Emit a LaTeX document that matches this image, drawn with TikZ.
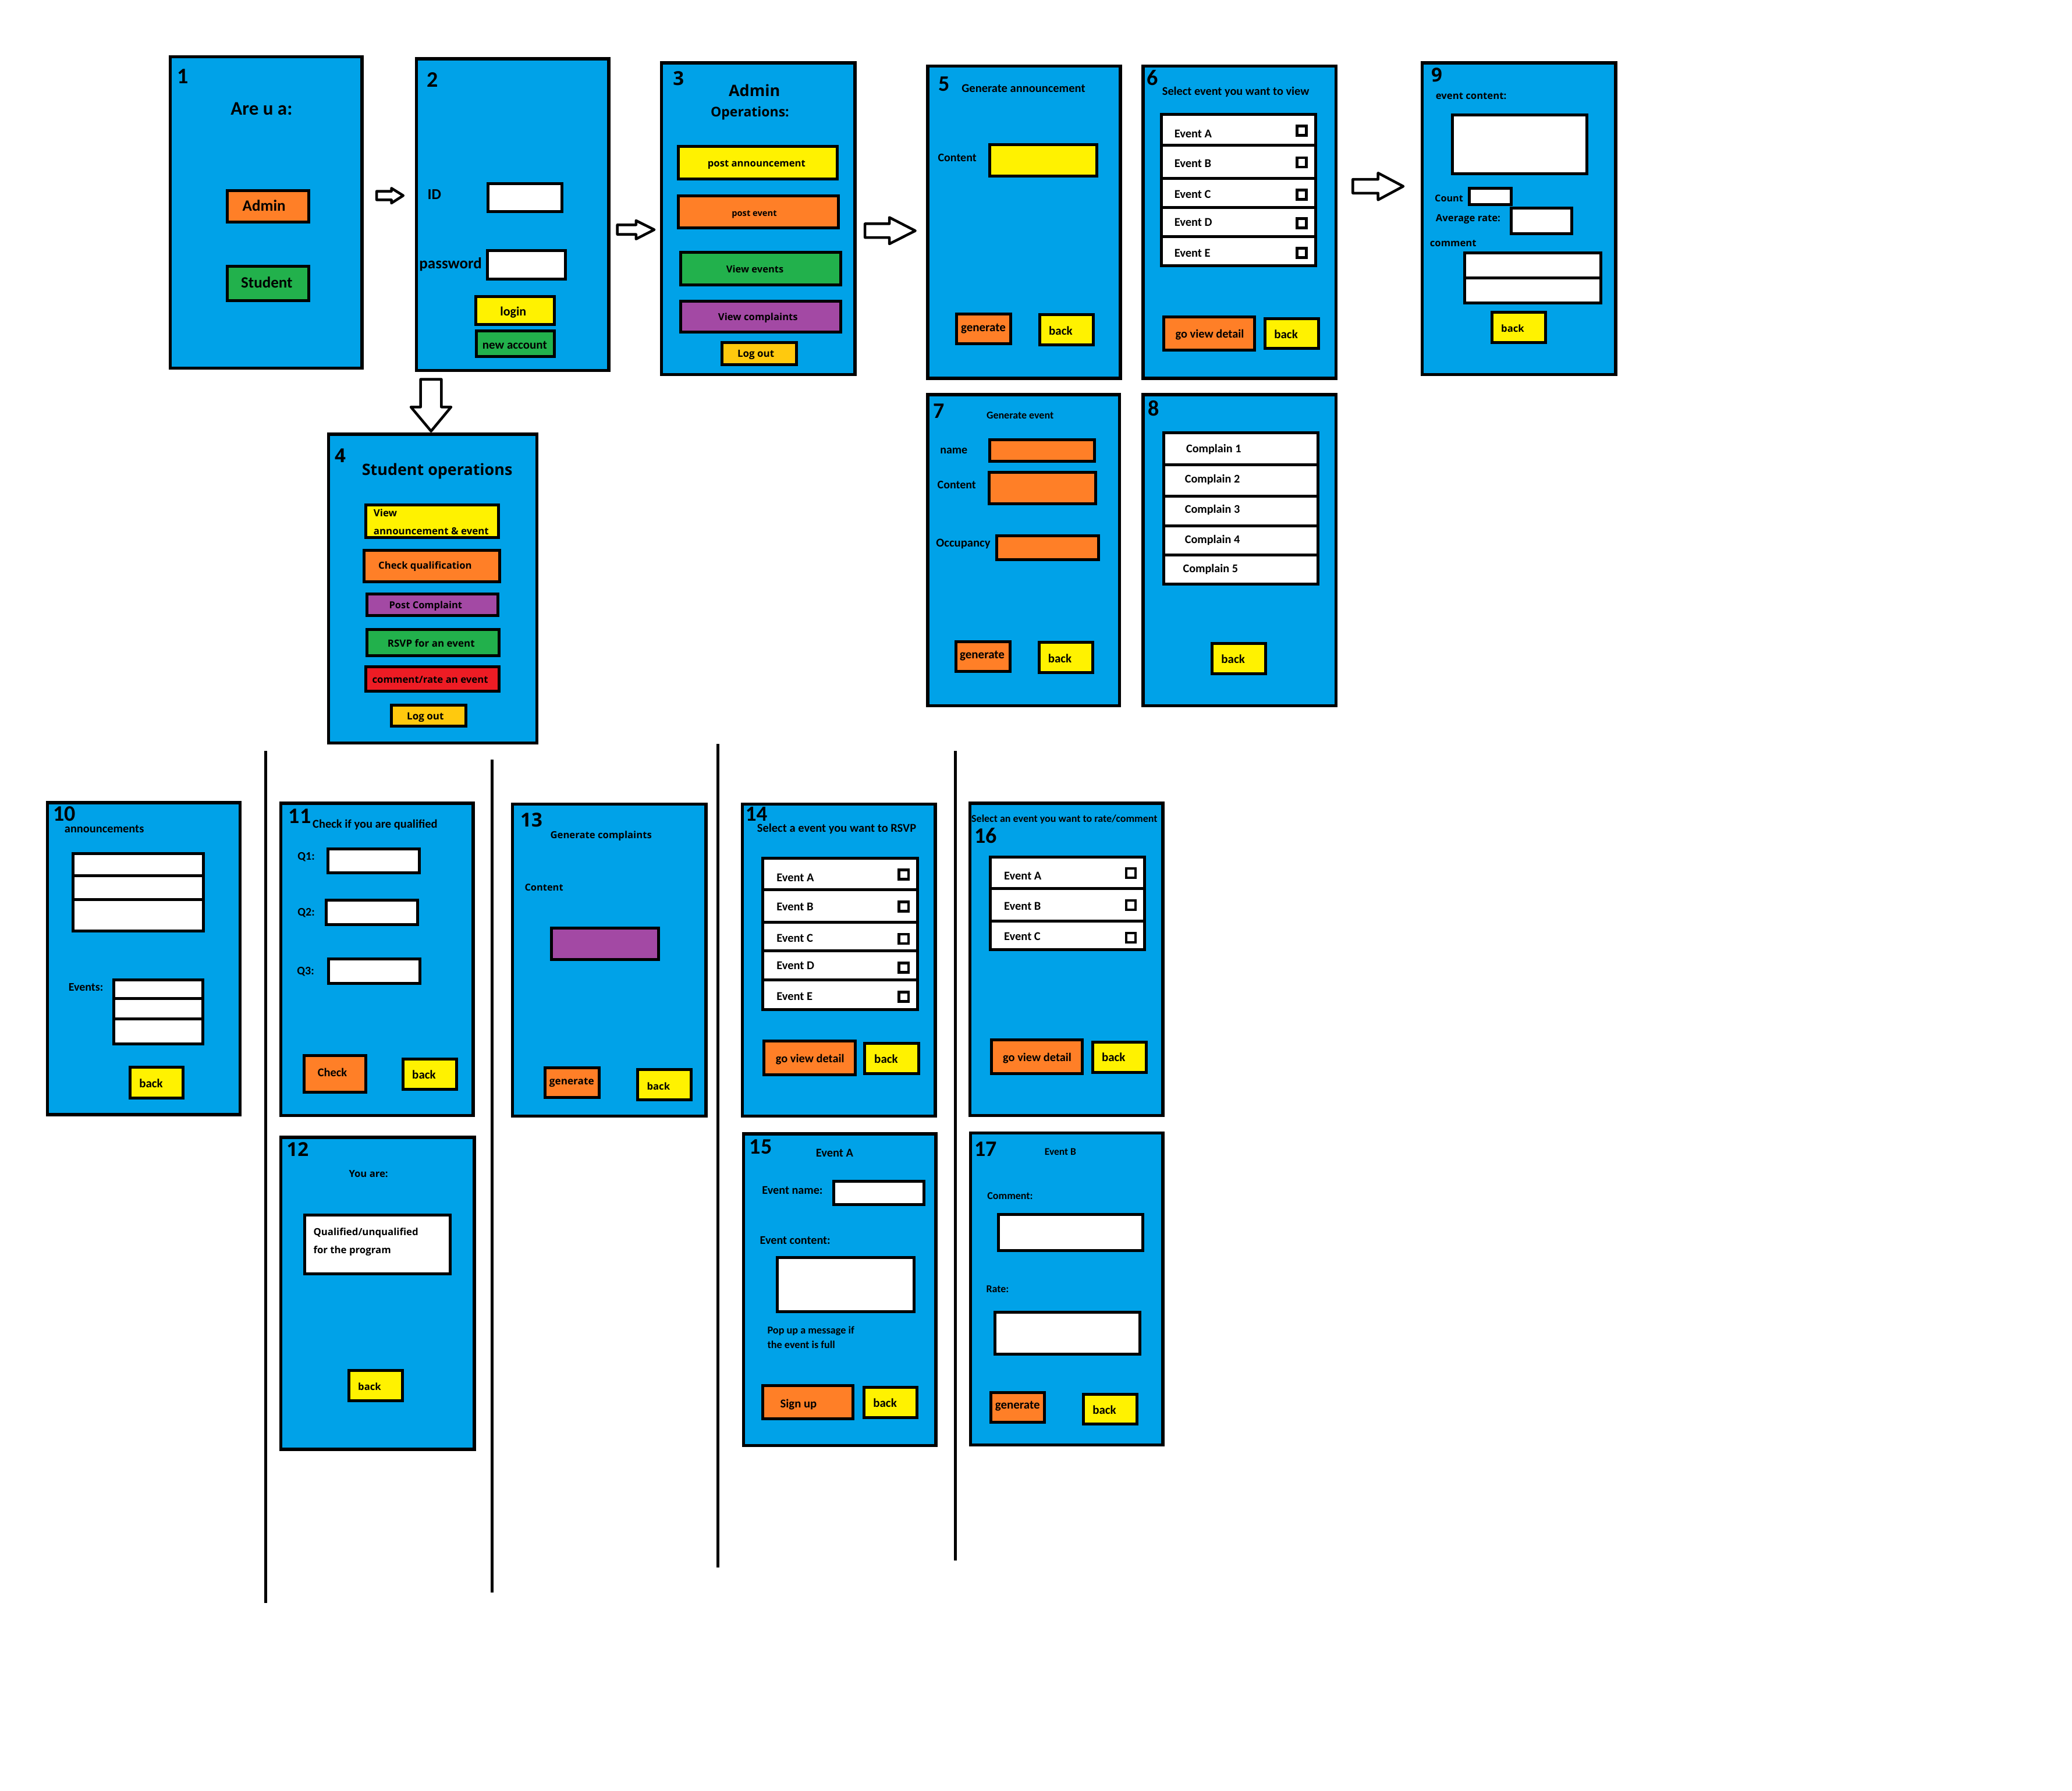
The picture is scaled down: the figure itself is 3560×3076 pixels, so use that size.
\documentclass[tikz,border=0pt]{standalone}
\usepackage{fontspec}
\newfontfamily\cfam{Carlito}
\newfontfamily\ofam{Open Sans}
\newcommand\nfs[1]{\cfam\bfseries\fontsize{#1pt}{#1pt}\selectfont}
\newcommand\wfs[1]{\ofam\bfseries\fontsize{#1pt}{#1pt}\selectfont}
\definecolor{pblue}{RGB}{0,162,232}
\definecolor{pyellow}{RGB}{255,242,0}
\definecolor{porange}{RGB}{255,127,39}
\definecolor{pgreen}{RGB}{34,177,76}
\definecolor{ppurple}{RGB}{163,73,164}
\definecolor{pred}{RGB}{237,28,36}
\definecolor{pgold}{RGB}{255,201,14}
\tikzset{
  scr/.style={draw=black, line width=5.5pt, fill=pblue},
  box/.style={draw=black, line width=5pt},
  chk/.style={draw=black, line width=4.5pt, fill=white, rectangle, minimum size=16pt, inner sep=0pt},
  arr/.style={draw=black, line width=4.5pt, fill=white, line join=round},
  vline/.style={draw=black, line width=5pt},
  nt/.style={inner sep=0pt, anchor=base west, font=\nfs{#1}}, nt/.default=20.5,
  wt/.style={inner sep=0pt, anchor=base west, font=\wfs{#1}}, wt/.default=16.7,
}
\begin{document}
\begin{tikzpicture}[x=1pt, y=-1pt]
\useasboundingbox (0,0) rectangle (3560,3076);
\fill[white] (0,0) rectangle (3560,3076);

% ---------- screens 1, 2 ----------
\begin{scope}[shift={(272,80)}, xscale=0.50702, yscale=0.36990]
  \draw[scr] (40,47) rectangle (690,1493);
  \node[nt=38] (n1) at (63,172) {1};
  \node[nt=33] (t1) at (245,318) {Are u a:};
  \draw[box,fill=porange] (234,668) rectangle (509,815);
  \node[nt=27] (b1a) at (285,765) {Admin};
  \draw[box,fill=pgreen] (234,1020) rectangle (509,1180);
  \node[nt=27] (b1s) at (280,1120) {Student};
  \draw[arr] (740,672) -- (790,672) -- (790,658) -- (830,692) -- (790,727) -- (790,712) -- (740,712) -- cycle;
  \draw[scr] (875,57) rectangle (1527,1505);
  \node[nt=38] (n2) at (910,187) {2};
  \node[nt=26] (t2id) at (912,710) {ID};
  \draw[box,fill=white] (1117,636) rectangle (1367,767);
  \node[nt=27] (t2pw) at (884,1030) {password};
  \draw[box,fill=white] (1116,947) rectangle (1380,1080);
  \draw[box,fill=pyellow] (1075,1161) rectangle (1342,1290);
  \node[nt=22] (b2l) at (1158,1250) {login};
  \draw[box,fill=pgreen] (1077,1320) rectangle (1342,1440);
  \node[nt=21] (b2n) at (1098,1405) {new account};
\end{scope}

% ---------- screen 3 ----------
\begin{scope}[shift={(1044,90)}, xscale=0.34821, yscale=0.36352]
  \draw[arr] (48,815) -- (140,815) -- (140,795) -- (230,838) -- (140,882) -- (140,860) -- (48,860) -- cycle;
  \draw[scr] (265,49) rectangle (1221,1523);
  \node[wt=33] (n3) at (322,155) {3};
  \node[wt=27] (t3a) at (597,208) {Admin};
  \node[wt=23] (t3b) at (508,303) {Operations:};
  \draw[box,fill=pyellow] (349,444) rectangle (1133,597);
  \node[wt=16.7] (b3a) at (493,540) {post announcement};
  \draw[box,fill=porange] (349,678) rectangle (1139,829);
  \node[wt=14.7] (b3b) at (612,775) {post event};
  \draw[box,fill=pgreen] (360,945) rectangle (1150,1098);
  \node[wt=16.5] (b3c) at (585,1042) {View events};
  \draw[box,fill=ppurple] (360,1176) rectangle (1150,1322);
  \node[wt=16.7] (b3d) at (545,1268) {View complaints};
  \draw[box,fill=pgold] (563,1370) rectangle (932,1475);
  \node[wt=17] (b3e) at (640,1440) {Log out};
  \draw[arr] (1270,810) -- (1390,810) -- (1390,780) -- (1518,843) -- (1390,905) -- (1390,875) -- (1270,875) -- cycle;
\end{scope}

% ---------- screens 5, 6 ----------
\begin{scope}[shift={(1578,90)}, xscale=0.46365, yscale=0.36352]
  \draw[scr] (35,65) rectangle (748,1540);
  \node[nt=38] (n5) at (75,183) {5};
  \node[nt=20.5] (t5) at (160,188) {Generate announcement};
  \node[nt=20] (t5c) at (72,515) {Content};
  \draw[box,fill=pyellow] (265,436) rectangle (660,584);
  \draw[box,fill=porange] (141,1237) rectangle (341,1378);
  \node[nt=21] (b5g) at (157,1318) {generate};
  \draw[box,fill=pyellow] (450,1238) rectangle (648,1382);
  \node[nt=21] (b5b) at (483,1335) {back};
  \draw[scr] (832,65) rectangle (1547,1540);
  \node[nt=38] (n6) at (846,155) {6};
  \node[nt=20.3] (t6) at (903,203) {Select event you want to view};
  \foreach \ya/\yb/\lab/\bl/\cy in {293/440/A/402/370, 440/595/B/543/520, 595/733/C/688/673, 733/870/D/820/808, 870/1007/E/966/947}{
    \draw[box,fill=white] (900,\ya) rectangle (1473,\yb);
    \node[nt] (e6\lab) at (948,\bl) {Event \lab};
    \node[chk] (k6\lab) at (1420,\cy) {};
  }
  \draw[box,fill=porange] (910,1250) rectangle (1245,1407);
  \node[nt=20.4] (b6g) at (952,1350) {go view detail};
  \draw[box,fill=pyellow] (1285,1258) rectangle (1482,1400);
  \node[nt=21] (b6b) at (1318,1353) {back};
\end{scope}

% ---------- screen 9 ----------
\begin{scope}[shift={(2305,90)}, xscale=0.33333, yscale=0.36352]
  \draw[arr] (58,600) -- (188,600) -- (188,570) -- (318,633) -- (188,697) -- (188,665) -- (58,665) -- cycle;
  \draw[scr] (415,49) rectangle (1413,1523);
  \node[wt=33] (n9) at (462,138) {9};
  \node[wt] (t9) at (485,222) {event content:};
  \draw[box,fill=white] (572,297) rectangle (1265,573);
  \node[wt=16.2] (t9c) at (480,706) {Count};
  \draw[box,fill=white] (658,642) rectangle (873,720);
  \node[wt] (t9r) at (485,800) {Average rate:};
  \draw[box,fill=white] (873,737) rectangle (1187,856);
  \node[wt] (t9m) at (455,918) {comment};
  \draw[box,fill=white] (633,948) rectangle (1337,1065);
  \draw[box,fill=white] (633,1065) rectangle (1337,1183);
  \draw[box,fill=pyellow] (775,1228) rectangle (1052,1370);
  \node[wt] (b9b) at (822,1322) {back};
\end{scope}

% ---------- screen 4 ----------
\begin{scope}[shift={(545,635)}, xscale=0.33333, yscale=0.41454]
  \draw[arr] (533,40) -- (640,40) -- (640,155) -- (690,155) -- (587,255) -- (483,155) -- (533,155) -- cycle;
  \draw[scr] (58,268) rectangle (1133,1548);
  \node[wt=33] (n4) at (90,385) {4};
  \node[wt=26.9] (t4) at (230,437) {Student operations};
  \draw[box,fill=pyellow] (250,562) rectangle (935,695);
  \node[wt=16.9] (b4a1) at (290,608) {View};
  \node[wt=16.9] (b4a2) at (290,685) {announcement \& event};
  \draw[box,fill=porange] (242,750) rectangle (940,880);
  \node[wt] (b4b) at (315,825) {Check qualification};
  \draw[box,fill=ppurple] (256,930) rectangle (932,1020);
  \node[wt=16.5] (b4c) at (370,990) {Post Complaint};
  \draw[box,fill=pgreen] (256,1078) rectangle (937,1185);
  \node[wt=17] (b4d) at (362,1150) {RSVP for an event};
  \draw[box,fill=pred] (250,1232) rectangle (937,1333);
  \node[wt=16.8] (b4e) at (283,1298) {comment/rate an event};
  \draw[box,fill=pgold] (382,1390) rectangle (767,1478);
  \node[wt=17] (b4f) at (462,1450) {Log out};
\end{scope}

% ---------- screens 7, 8 ----------
\begin{scope}[shift={(1578,660)}, xscale=0.46365, yscale=0.36352]
  \draw[scr] (35,49) rectangle (745,1520);
  \node[nt=38] (n7) at (55,160) {7};
  \node[nt=18] (t7) at (252,165) {Generate event};
  \node[nt=20] (t7n) at (80,328) {name};
  \draw[box,fill=porange] (265,262) rectangle (652,365);
  \node[nt=20] (t7c) at (70,495) {Content};
  \draw[box,fill=porange] (263,417) rectangle (657,565);
  \node[nt=20.7] (t7o) at (65,768) {Occupancy};
  \draw[box,fill=porange] (291,717) rectangle (667,830);
  \draw[box,fill=porange] (140,1217) rectangle (340,1357);
  \node[nt=21] (b7g) at (153,1297) {generate};
  \draw[box,fill=pyellow] (448,1220) rectangle (645,1363);
  \node[nt=21] (b7b) at (480,1315) {back};
  \draw[scr] (832,49) rectangle (1547,1520);
  \node[nt=38] (n8) at (851,150) {8};
  \foreach \ya/\yb/\lab/\tx/\bl in {230/380/1/992/322, 380/530/2/987/467, 530/670/3/987/610, 670/807/4/987/753, 807/945/5/980/890}{
    \draw[box,fill=white] (908,\ya) rectangle (1480,\yb);
    \node[nt=20.2] (c8\lab) at (\tx,\bl) {Complain \lab};
  }
  \draw[box,fill=pyellow] (1088,1225) rectangle (1287,1368);
  \node[nt=21] (b8b) at (1122,1320) {back};
\end{scope}

% ---------- screens 10, 11 ----------
\begin{scope}[shift={(68,1362)}, xscale=0.48597, yscale=0.36224]
  \draw[scr] (28,47) rectangle (709,1527);
  \node[nt=38] (n10) at (48,135) {10};
  \node[nt=20.4] (t10) at (88,190) {announcements};
  \draw[box,fill=white] (118,288) rectangle (580,392);
  \draw[box,fill=white] (118,392) rectangle (580,506);
  \draw[box,fill=white] (118,506) rectangle (580,655);
  \node[nt=20] (t10e) at (102,940) {Events:};
  \draw[box,fill=white] (263,888) rectangle (577,975);
  \draw[box,fill=white] (263,975) rectangle (577,1072);
  \draw[box,fill=white] (263,1072) rectangle (577,1192);
  \draw[box,fill=pyellow] (320,1302) rectangle (508,1447);
  \node[nt=21] (b10b) at (352,1398) {back};
  \draw[scr] (853,49) rectangle (1533,1530);
  \node[nt=38] (n11) at (880,145) {11};
  \node[nt=20.5] (t11) at (965,167) {Check if you are qualified};
  \node[nt=20] (q1) at (912,320) {Q1:};
  \draw[box,fill=white] (1020,265) rectangle (1342,380);
  \node[nt=20] (q2) at (912,583) {Q2:};
  \draw[box,fill=white] (1013,510) rectangle (1337,625);
  \node[nt=20] (q3) at (910,862) {Q3:};
  \draw[box,fill=white] (1022,788) rectangle (1345,905);
  \draw[box,fill=porange] (935,1245) rectangle (1153,1420);
  \node[nt=20.4] (b11c) at (983,1345) {Check};
  \draw[box,fill=pyellow] (1285,1262) rectangle (1475,1407);
  \node[nt=21] (b11b) at (1317,1358) {back};
\end{scope}

% ---------- screen 13 ----------
\begin{scope}[shift={(862,1362)}, xscale=0.33333, yscale=0.36224]
  \draw[scr] (55,54) rectangle (1053,1533);
  \node[wt=33] (n13) at (96,162) {13};
  \node[wt] (t13) at (250,218) {Generate complaints};
  \node[wt=16.4] (t13c) at (118,465) {Content};
  \draw[box,fill=ppurple] (256,642) rectangle (808,790);
  \draw[box,fill=porange] (223,1305) rectangle (502,1444);
  \node[wt=17.2] (b13g) at (245,1385) {generate};
  \draw[box,fill=pyellow] (700,1313) rectangle (976,1455);
  \node[wt] (b13b) at (748,1408) {back};
\end{scope}

% ---------- screen 12 ----------
\begin{scope}[shift={(465,1940)}, xscale=0.33333, yscale=0.35714]
  \draw[scr] (52,39) rectangle (1050,1540);
  \node[wt=33] (n12) at (82,130) {12};
  \node[wt] (t12) at (403,232) {You are:};
  \draw[box,fill=white] (175,413) rectangle (925,695);
  \node[wt=16.8] (t12a) at (220,510) {Qualified/unqualified};
  \node[wt=16.8] (t12b) at (220,598) {for the program};
  \draw[box,fill=pyellow] (403,1160) rectangle (680,1305);
  \node[wt] (b12b) at (450,1255) {back};
\end{scope}

% ---------- screens 14, 16 ----------
\begin{scope}[shift={(1260,1362)}, xscale=0.47832, yscale=0.36224]
  \draw[scr] (32,54) rectangle (725,1533);
  \node[nt=37] (n14) at (43,134) {14};
  \node[nt=20.5] (t14) at (85,187) {Select a event you want to RSVP};
  \foreach \ya/\yb/\lab/\bl/\cy in {310/460/A/420/388, 460/613/B/560/540, 613/750/C/707/693, 750/888/D/838/830, 888/1028/E/985/967}{
    \draw[box,fill=white] (105,\ya) rectangle (662,\yb);
    \node[nt] (e14\lab) at (155,\bl) {Event \lab};
    \node[chk] (k14\lab) at (612,\cy) {};
  }
  \draw[box,fill=porange] (110,1178) rectangle (437,1337);
  \node[nt=20.4] (b14g) at (152,1280) {go view detail};
  \draw[box,fill=pyellow] (472,1188) rectangle (665,1332);
  \node[nt=21] (b14b) at (506,1283) {back};
  \draw[scr] (850,49) rectangle (1543,1530);
  \node[nt=18] (t16) at (855,140) {Select an event you want to rate/comment};
  \node[nt=38] (n16) at (866,238) {16};
  \foreach \ya/\yb/\lab/\bl/\cy in {305/455/A/412/381, 455/608/B/555/533, 608/745/C/700/688}{
    \draw[box,fill=white] (923,\ya) rectangle (1478,\yb);
    \node[nt] (e16\lab) at (972,\bl) {Event \lab};
    \node[chk] (k16\lab) at (1428,\cy) {};
  }
  \draw[box,fill=porange] (927,1173) rectangle (1253,1333);
  \node[nt=20.4] (b16g) at (968,1275) {go view detail};
  \draw[box,fill=pyellow] (1291,1182) rectangle (1483,1327);
  \node[nt=21] (b16b) at (1323,1275) {back};
\end{scope}

% ---------- screens 15, 17 ----------
\begin{scope}[shift={(1260,1930)}, xscale=0.47832, yscale=0.36352]
  \draw[scr] (37,49) rectangle (728,1523);
  \node[nt=38] (n15) at (58,145) {15};
  \node[nt=20.5] (t15) at (296,157) {Event A};
  \node[nt=20.2] (t15n) at (103,333) {Event name:};
  \draw[box,fill=white] (360,273) rectangle (685,385);
  \node[nt=20.2] (t15c) at (95,570) {Event content:};
  \draw[box,fill=white] (157,634) rectangle (650,890);
  \node[nt=18.2] (t15p1) at (122,993) {Pop up a message if};
  \node[nt=18.2] (t15p2) at (122,1062) {the event is full};
  \draw[box,fill=porange] (105,1238) rectangle (430,1395);
  \node[nt=20.7] (b15s) at (168,1345) {Sign up};
  \draw[box,fill=pyellow] (470,1247) rectangle (660,1390);
  \node[nt=21] (b15b) at (502,1340) {back};
  \draw[scr] (852,45) rectangle (1543,1520);
  \node[nt=38] (n17) at (866,155) {17};
  \node[nt=17.5] (t17) at (1118,150) {Event B};
  \node[nt=18] (t17c) at (912,358) {Comment:};
  \draw[box,fill=white] (952,430) rectangle (1470,600);
  \node[nt=18] (t17r) at (908,800) {Rate:};
  \draw[box,fill=white] (940,893) rectangle (1460,1090);
  \draw[box,fill=porange] (925,1272) rectangle (1118,1412);
  \node[nt=21] (b17g) at (940,1350) {generate};
  \draw[box,fill=pyellow] (1258,1280) rectangle (1449,1422);
  \node[nt=21] (b17b) at (1290,1375) {back};
\end{scope}

% ---------- separator lines ----------
\draw[vline] (456,1290) -- (456,2754);
\draw[vline] (845,1305) -- (845,2736);
\draw[vline] (1233,1278) -- (1233,2693);
\draw[vline] (1641,1290) -- (1641,2681);
\end{tikzpicture}
\end{document}
